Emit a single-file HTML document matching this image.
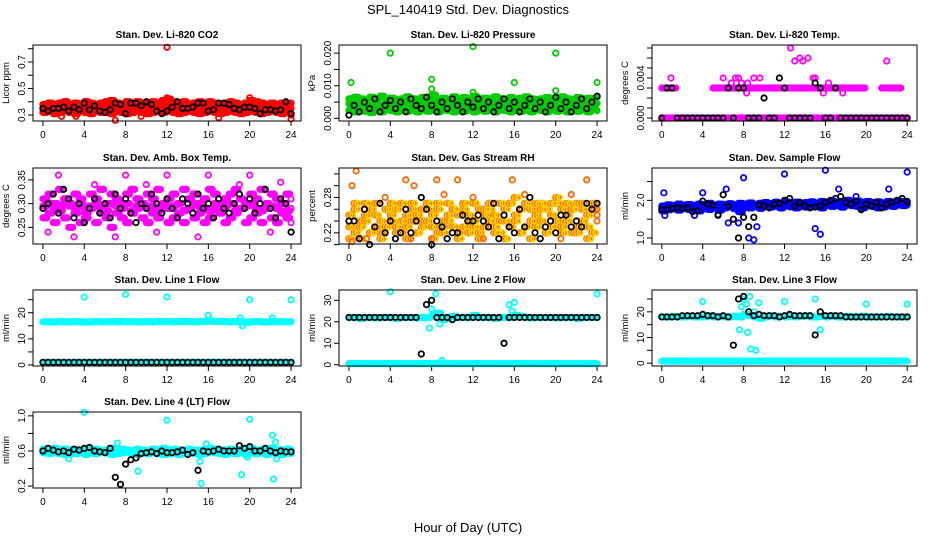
<!DOCTYPE html>
<html><head><meta charset="utf-8"><style>
body{margin:0;background:#fff;}
svg{display:block;font-family:"Liberation Sans",sans-serif;}
</style></head><body>
<svg id="c" width="936" height="540" viewBox="0 0 936 540">
<text x="468" y="14" font-size="13" text-anchor="middle">SPL_140419  Std. Dev. Diagnostics</text>
<text x="468" y="532" font-size="13" text-anchor="middle">Hour of Day (UTC)</text>
</svg>
<script>
// ---- data arrays (values at evenly spaced hours 0..24) ----
const xTicks=[0,4,8,12,16,20,24];
const titles=["Stan. Dev. Li-820 CO2","Stan. Dev. Li-820 Pressure","Stan. Dev. Li-820 Temp.","Stan. Dev. Amb. Box Temp.","Stan. Dev. Gas Stream RH","Stan. Dev. Sample Flow","Stan. Dev. Line 1 Flow","Stan. Dev. Line 2 Flow","Stan. Dev. Line 3 Flow","Stan. Dev. Line 4 (LT) Flow"];
const yTitles=["Licor ppm","kPa","degrees C","degrees C","percent","ml/min","ml/min","ml/min","ml/min","ml/min"];
const yLims=[[0.255,0.828],[-0.0008,0.0225],[-0.0003,0.0073],[0.215,0.375],[0.201,0.330],[0.84,2.86],[-0.4,28.7],[-0.6,34.8],[-1.1,28.5],[0.178,1.044]];
const yTicks=[[0.3,0.4,0.5,0.6,0.7,0.8],[0,0.005,0.01,0.015,0.02],[0,0.001,0.002,0.003,0.004,0.005,0.006,0.007],[0.25,0.30,0.35],[0.20,0.22,0.24,0.26,0.28,0.30,0.32],[1.0,1.5,2.0,2.5],[0,5,10,15,20,25],[0,10,20,30],[0,5,10,15,20,25],[0.2,0.4,0.6,0.8,1.0]];
const yLabels=[["0.3","","0.5","","0.7",""],["0.000","","0.010","","0.020"],["0.000","","","","0.004","","",""],["0.25","0.30","0.35"],["","0.22","","","0.28","",""],["1.0","","2.0",""],["0","","10","","20",""],["0","10","20","30"],["0","","10","","20",""],["0.2","","0.6","","1.0"]];
const colors=["#ff0000","#00cc00","#ff00ff","#ff00ff","#ff6600","#0000ff","#00ffff","#00ffff","#00ffff","#00ffff"];
const fills=["#ff0000","#00cc00","#ff00ff","#ff00ff","#ffdd00","#0000ff","#00ffff","#00ffff","#00ffff","#00ffff"];
const colA=[
[0.38,0.39,0.38,0.39,0.40,0.38,0.39,0.38,0.40,0.39,0.38,0.39,0.40,0.41,0.39,0.38,0.40,0.39,0.40,0.39,0.38,0.40,0.39,0.41,0.42,0.40,0.39,0.40,0.38,0.39,0.40,0.39,0.40,0.39,0.38,0.39,0.40,0.39,0.38,0.39,0.41,0.40,0.39,0.38,0.39,0.38,0.39,0.38,0.39],
[0.006,0.0065,0.006,0.0058,0.0065,0.006,0.0068,0.006,0.0062,0.0058,0.006,0.0066,0.006,0.0059,0.0064,0.006,0.0072,0.006,0.0062,0.0058,0.0066,0.006,0.0064,0.006,0.0068,0.006,0.0062,0.006,0.0066,0.006,0.0058,0.0064,0.006,0.0062,0.0066,0.006,0.0058,0.006,0.0064,0.006,0.0062,0.0066,0.006,0.0058,0.0064,0.006,0.0062,0.006,0.0065],
[0.003,0.003,0.003,null,null,null,null,null,null,null,0.003,0.003,0.003,0.003,0.003,0.003,0.003,0.003,0.003,0.003,0.003,0.003,0.003,0.003,0.003,0.003,0.003,0.003,0.003,0.003,0.003,0.003,0.003,0.003,0.003,0.003,0.003,0.003,0.003,0.003,null,null,null,0.003,0.003,0.003,0.003,null,null],
[0.31,0.32,0.30,0.33,0.31,0.30,0.32,0.31,0.29,0.32,0.31,0.33,0.30,0.32,0.31,0.30,0.32,0.33,0.31,0.30,0.32,0.31,0.33,0.30,0.31,0.32,0.30,0.33,0.31,0.32,0.30,0.31,0.33,0.32,0.30,0.31,0.32,0.33,0.31,0.30,0.32,0.31,0.33,0.30,0.32,0.31,0.30,0.32,0.31],
[0.25,0.26,0.24,0.25,0.26,0.25,0.24,0.26,0.25,0.26,0.24,0.25,0.26,0.25,0.24,0.26,0.25,0.26,0.24,0.25,0.26,0.25,0.26,0.25,0.24,0.26,0.25,0.26,0.25,0.24,0.26,0.27,0.25,0.26,0.27,0.26,0.25,0.27,0.26,0.25,0.27,0.26,0.25,0.26,0.27,0.26,0.25,0.26,0.25],
[1.85,1.88,1.86,1.90,1.87,1.89,1.86,1.90,1.88,1.92,1.87,1.90,1.89,1.91,1.88,1.92,1.90,1.93,1.89,1.92,1.94,1.91,1.95,1.92,1.96,1.93,1.95,1.92,1.94,1.96,1.93,1.97,1.95,1.98,1.94,1.97,2.00,1.96,1.98,1.95,1.97,1.94,1.96,1.93,1.97,1.95,1.98,1.96,1.97],
[16.5,16.5,16.4,16.6,16.5,16.5,16.6,16.5,16.4,16.5,16.6,16.5,16.5,16.6,16.5,16.7,16.5,16.6,16.5,16.5,16.6,16.5,16.7,16.6,16.6,16.5,16.6,16.7,16.6,16.5,16.6,16.7,16.8,16.6,16.7,16.6,16.5,16.6,16.5,16.4,16.5,16.6,16.5,16.4,16.6,16.5,16.6,16.5,16.6],
[22,22,21.5,22,22,21.8,22,22,22,21.5,22,22,22,21.8,22,22,23,24,21,22,22.5,22,22,22,23,22,22,22,21.5,22,22,22,23,22.5,22,21.8,22,22,22,22,21.8,22,22,22,21.5,22,22,22,22],
[18,18,18.2,18,18,18.3,18,18,18,18.5,18,18.2,18,18,18.3,18,19,18.5,18,17.5,18,18.5,18,18.2,18,18.5,18,18.2,18.5,18,18,18.3,18,18.5,18,18,18.2,18,18,18.3,18,18,18,18,18.2,18,18,18,18],
[0.62,0.61,0.63,0.60,0.62,0.61,0.62,0.60,0.63,0.61,0.62,0.60,0.61,0.63,0.60,0.62,0.61,0.60,0.62,0.61,0.60,0.62,0.61,0.63,0.60,0.62,0.61,0.60,0.62,0.61,0.60,0.61,0.63,0.62,0.60,0.61,0.62,0.60,0.62,0.61,0.63,0.61,0.60,0.62,0.63,0.61,0.60,0.62,0.61]];
const colB=[
[0.32,0.33,0.31,0.32,0.33,0.32,0.31,0.33,0.32,0.31,0.33,0.32,0.32,0.31,0.33,0.32,0.31,0.32,0.33,0.32,0.31,0.32,0.33,0.32,0.33,0.32,0.31,0.32,0.33,0.32,0.31,0.32,0.33,0.32,0.31,0.32,0.33,0.32,0.31,0.32,0.33,0.32,0.31,0.32,0.33,0.32,0.31,0.32,0.30],
[0.0025,0.002,0.003,0.0022,0.0018,0.0028,0.002,0.0032,0.0024,0.002,0.003,0.0022,0.0026,0.002,0.0034,0.0022,0.0028,0.002,0.003,0.0024,0.002,0.0028,0.0022,0.0032,0.002,0.0026,0.0022,0.003,0.002,0.0028,0.0024,0.002,0.003,0.0022,0.0026,0.002,0.003,0.0024,0.002,0.0028,0.0022,0.003,0.002,0.0026,0.0022,0.003,0.002,0.0028,0.0024],
[0,0,0,0,0,0,0,0,0,0,0,0,0,0,0,0,0,0,0,0,0,0,0,0,0,0,0,0,0,0,0,0,0,0,0,0,0,0,0,0,0,0,0,0,0,0,0,0,0],
[0.27,0.28,0.26,0.29,0.27,0.25,0.28,0.26,0.27,0.29,0.26,0.28,0.27,0.25,0.28,0.27,0.26,0.28,0.29,0.27,0.26,0.28,0.27,0.29,0.26,0.27,0.28,0.26,0.29,0.27,0.28,0.26,0.27,0.29,0.28,0.26,0.27,0.28,0.29,0.26,0.27,0.28,0.26,0.29,0.27,0.26,0.28,0.27,0.26],
[0.23,0.22,0.23,0.24,0.22,0.23,0.22,0.23,0.24,0.23,0.22,0.23,0.24,0.22,0.23,0.24,0.23,0.22,0.23,0.24,0.23,0.22,0.23,0.24,0.23,0.22,0.23,0.24,0.23,0.22,0.24,0.23,0.24,0.22,0.23,0.24,0.23,0.24,0.22,0.23,0.24,0.23,0.24,0.22,0.23,0.24,0.23,0.22,0.24],
[1.72,1.75,1.78,1.74,1.80,1.76,1.78,1.72,1.80,1.76,1.82,1.74,1.80,1.84,1.78,1.70,1.82,1.80,1.84,1.79,1.86,1.82,1.85,1.80,1.86,1.83,1.80,1.84,1.82,1.86,1.84,1.80,1.88,1.84,1.86,1.82,1.88,1.86,1.84,1.80,1.86,1.84,1.80,1.82,1.86,1.84,1.88,1.86,1.88],
[1,1,1,1,1,1,1,1,1,1,1,1,1,1,1,1,1,1,1,1,1,1,1,1,1,1,1,1,1,1,1,1,1,1,1,1,1,1,1,1,1,1,1,1,1,1,1,1,1],
[0.5,0.5,0.5,0.5,0.5,0.5,0.5,0.5,0.5,0.5,0.5,0.5,0.5,0.5,0.5,0.5,0.5,0.5,0.5,0.5,0.5,0.5,0.5,0.5,0.5,0.5,0.5,0.5,0.5,0.5,0.5,0.5,0.5,0.5,0.5,0.5,0.5,0.5,0.5,0.5,0.5,0.5,0.5,0.5,0.5,0.5,0.5,0.5,0.5],
[0.8,0.8,0.8,0.8,0.8,0.8,0.8,0.8,0.8,0.8,0.8,0.8,0.8,0.8,0.8,0.8,0.8,0.8,0.8,0.8,0.8,0.8,0.8,0.8,0.8,0.8,0.8,0.8,0.8,0.8,0.8,0.8,0.8,0.8,0.8,0.8,0.8,0.8,0.8,0.8,0.8,0.8,0.8,0.8,0.8,0.8,0.8,0.8,0.8],
[0.58,0.57,0.59,0.57,0.56,0.58,0.57,0.59,0.56,0.58,0.57,0.59,0.58,0.56,0.57,0.58,0.59,0.57,0.56,0.58,0.57,0.59,0.58,0.56,0.57,0.58,0.56,0.59,0.57,0.58,0.56,0.57,0.59,0.58,0.57,0.56,0.58,0.57,0.59,0.56,0.58,0.57,0.59,0.56,0.58,0.57,0.56,0.58,0.57]];
const colC=[
[0.35,0.36,0.34,0.35,0.36,0.35,0.34,0.36,0.35,0.37,0.34,0.35,0.36,0.35,0.34,0.36,0.35,0.37,0.34,0.35,0.36,0.35,0.34,0.36,0.37,0.35,0.34,0.36,0.35,0.36,0.34,0.35,0.36,0.35,0.37,0.34,0.35,0.36,0.35,0.34,0.37,0.36,0.35,0.34,0.36,0.35,0.34,0.36,0.35],
[0.0045,0.004,0.0048,0.0042,0.0038,0.0046,0.004,0.0044,0.0048,0.0042,0.004,0.0046,0.0044,0.004,0.0048,0.0042,0.0046,0.004,0.0044,0.0048,0.0042,0.004,0.0046,0.0044,0.0048,0.004,0.0042,0.0046,0.0044,0.004,0.0048,0.0042,0.0046,0.004,0.0044,0.0048,0.0042,0.004,0.0046,0.0044,0.004,0.0048,0.0042,0.0046,0.004,0.0044,0.0048,0.0042,0.0046],
[],
[0.295,0.30,0.29,0.285,0.30,0.295,0.29,0.30,0.28,0.295,0.30,0.29,0.285,0.30,0.295,0.29,0.30,0.285,0.295,0.30,0.29,0.295,0.285,0.30,0.29,0.295,0.30,0.285,0.29,0.30,0.295,0.29,0.285,0.30,0.29,0.295,0.30,0.285,0.29,0.295,0.30,0.29,0.285,0.30,0.295,0.29,0.30,0.285,0.29],
[0.21,0.27,0.21,0.27,0.22,0.27,0.21,0.26,0.27,0.22,0.27,0.21,0.27,0.22,0.26,0.27,0.21,0.27,0.22,0.27,0.26,0.21,0.27,0.22,0.27,0.21,0.26,0.27,0.22,0.27,0.21,0.27,0.28,0.22,0.27,0.21,0.27,0.26,0.22,0.27,0.28,0.22,0.27,0.26,0.22,0.27,0.21,0.27,0.26],
[1.80,1.82,1.80,1.83,1.82,1.84,1.80,1.83,1.82,1.85,1.80,1.83,1.84,1.86,1.83,1.82,1.86,1.85,1.87,1.85,1.88,1.86,1.90,1.86,1.90,1.88,1.86,1.88,1.87,1.90,1.88,1.86,1.92,1.90,1.90,1.88,1.92,1.90,1.90,1.87,1.90,1.88,1.86,1.88,1.90,1.88,1.92,1.90,1.92],
[],[],[],
[0.60,0.59,0.61,0.60,0.59,0.60,0.61,0.60,0.59,0.60,0.61,0.60,0.59,0.60,0.61,0.60,0.59,0.60,0.61,0.60,0.59,0.60,0.61,0.60,0.59,0.60,0.61,0.60,0.59,0.60,0.61,0.60,0.59,0.60,0.61,0.60,0.59,0.60,0.61,0.60,0.59,0.60,0.61,0.60,0.59,0.60,0.61,0.60,0.59]];
// outliers: [hour, value]
const outliers=[
[[12,0.81],[7,0.26],[24,0.27],[12,0.43],[20,0.43],[1.8,0.29],[3.2,0.29],[9.5,0.29],[17,0.28],[6.8,0.36],[13,0.36],[4,0.35],[16,0.35]],
[[0.2,0.011],[4,0.020],[8,0.012],[12,0.022],[16,0.011],[20,0.020],[24,0.011],[0.5,0.0045],[8,0.009],[12,0.008],[20,0.0085],[4,0.0045],[14,0.0045],[23,0.0045]],
[[0.9,0.004],[6,0.004],[7.2,0.004],[7.5,0.004],[6.8,0.0035],[7.8,0.0035],[8.4,0.0035],[8.3,0.0025],[9,0.004],[9.6,0.004],[12.6,0.007],[13,0.0057],[13.5,0.006],[13.8,0.0057],[14.3,0.006],[14.8,0.004],[15.8,0.0025],[16.3,0.0035],[17.7,0.0025],[22,0.0057],[15,0.004]],
[[1.5,0.36],[8,0.36],[12,0.36],[16,0.36],[20,0.36],[3,0.23],[7,0.23],[15,0.23],[22,0.24],[5,0.34],[10,0.34],[19,0.34],[23,0.345],[0.5,0.24],[11,0.24]],
[[0.7,0.325],[0.3,0.30],[5.5,0.31],[8.5,0.31],[10.5,0.31],[15.8,0.31],[23,0.31],[0.3,0.205],[1.7,0.21],[6,0.21],[8,0.21],[13,0.21],[20.5,0.21],[3.5,0.28],[12,0.28],[17,0.285],[21.5,0.285],[9.2,0.285],[6.3,0.30]],
[[0.2,2.2],[4,2.2],[6.3,2.3],[8,2.6],[12,2.7],[16,2.8],[24,2.75],[17.3,2.3],[22.2,2.3],[19,2.1],[6.5,1.4],[7.5,1.4],[8.5,1.0],[9,0.95],[9.3,1.3],[15,1.25],[15.5,1.1],[5.5,1.6],[0.3,1.6],[3.2,1.6]],
[[4,26],[8,27],[12,26],[16,19],[20,25],[24,25],[19.3,15],[19.1,18],[22.2,18]],
[[4,34],[8,26],[8.4,33],[9,2],[15.5,28],[16,29],[24,33],[7.8,17],[8.8,19],[15,10],[15.8,25]],
[[4,24],[7.8,22],[8,25],[8.3,23],[8.6,26],[9,20],[9.5,23.5],[7.6,13],[8.4,12],[8.7,5.5],[9.2,5],[12,24],[15,25],[15.5,13],[20,23],[24,23]],
[[4,1.04],[12,0.95],[20,0.96],[22.2,0.78],[22.5,0.7],[2.5,0.51],[9.2,0.37],[15.3,0.23],[19.2,0.33],[22.3,0.28],[15.2,0.48],[19.8,0.53],[22.6,0.51],[7.2,0.69],[15.8,0.68]]];
// black (current-day) points at evenly spaced hours
const black=[
[0.35,0.33,0.35,0.35,0.36,0.33,0.36,0.34,0.39,0.34,0.37,0.33,0.32,0.34,0.39,0.38,0.31,0.39,0.39,0.37,0.40,0.38,0.33,0.31,0.33,0.36,0.40,0.35,0.35,0.36,0.39,0.39,0.33,0.34,0.39,0.39,0.38,0.35,0.34,0.36,0.36,0.35,0.31,0.34,0.34,0.33,0.34,0.40,0.31],
[0.001,0.004,0.002,0.005,0.003,0.006,0.002,0.004,0.0055,0.003,0.005,0.002,0.006,0.004,0.003,0.0065,0.004,0.002,0.005,0.003,0.006,0.004,0.002,0.005,0.0035,0.006,0.003,0.005,0.002,0.004,0.006,0.003,0.005,0.002,0.004,0.006,0.003,0.005,0.002,0.004,0.0065,0.003,0.005,0.002,0.004,0.006,0.003,0.005,0.0068],
[0,0.003,0.003,0,0,0,0,0,0,0,0,0,0,0.003,0,0.003,0.003,0,0,0,0.002,0,0,0.004,0.003,0,0,0,0,0,0.0035,0.003,0,0,0.003,0,0,0,0,0,0,0,0,0,0,0,0,0,0],
[0.29,0.30,0.32,0.28,0.33,0.31,0.27,0.30,0.26,0.29,0.31,0.28,0.30,0.27,0.32,0.29,0.31,0.28,0.26,0.30,0.29,0.32,0.30,0.28,0.31,0.29,0.27,0.31,0.30,0.28,0.32,0.29,0.30,0.27,0.31,0.29,0.28,0.30,0.32,0.29,0.31,0.28,0.30,0.33,0.29,0.27,0.31,0.30,0.24],
[0.24,0.24,0.21,0.26,0.20,0.23,0.27,0.22,0.24,0.21,0.22,0.26,0.22,0.24,0.28,0.26,0.20,0.24,0.23,0.21,0.22,0.22,0.25,0.24,0.24,0.25,0.24,0.23,0.27,0.21,0.25,0.23,0.22,0.26,0.23,0.28,0.22,0.21,0.23,0.24,0.22,0.25,0.25,0.23,0.24,0.23,0.27,0.26,0.27],
[1.75,1.75,1.78,1.80,1.78,1.80,1.70,1.72,1.98,1.90,1.87,1.62,2.15,1.85,1.50,1.00,1.55,1.30,1.55,1.88,1.85,1.80,1.90,1.92,2.00,2.05,1.85,1.95,1.85,1.80,1.82,1.85,1.95,2.00,2.05,2.10,1.95,1.90,1.98,1.75,1.90,1.85,1.95,1.80,1.90,1.95,2.00,2.05,1.97],
[1,1,1,1,1,1,1,1,1,1,1,1,1,1,1,1,1,1,1,1,1,1,1,1,1,1,1,1,1,1,1,1,1,1,1,1,1,1,1,1,1,1,1,1,1,1,1,1,1],
[22,22,22,22,22,22,22,22,22,22,22,22,22,22,5,28,30,22,22,22,21,22,22,22,22,22,22,22,22,22,10,22,22,22,22,22,22,22,22,22,22,22,22,22,22,22,22,22,22],
[18,18,18,18,18.5,18.5,18.5,18.5,19,18.5,18.5,18,18.5,18,7,25,26,20,18.5,19,18.5,18.5,18.5,18,18.5,19,18.5,18.5,18.5,18.5,11,20,18.5,18.5,18.5,18.5,18,18,18,18,18,18,18,18,18,18,18,18,18],
[0.60,0.63,0.61,0.59,0.60,0.58,0.62,0.61,0.63,0.64,0.60,0.59,0.58,0.63,0.30,0.22,0.45,0.50,0.52,0.57,0.58,0.59,0.57,0.60,0.58,0.58,0.59,0.61,0.56,0.58,0.38,0.60,0.59,0.60,0.62,0.60,0.60,0.60,0.66,0.63,0.65,0.60,0.60,0.63,0.60,0.58,0.60,0.59,0.59]];

const NS="http://www.w3.org/2000/svg";
const svg=document.getElementById('c');
const colLeft=[33,339,652], colW=[268,268,265], rowTop=[45,168,290,412], boxH=76;
function mk(tag,attrs,parent){const e=document.createElementNS(NS,tag);for(const k in attrs)e.setAttribute(k,attrs[k]);(parent||svg).appendChild(e);return e;}
for(let p=0;p<titles.length;p++){
  const L=colLeft[p%3], W=colW[p%3], T=rowTop[Math.floor(p/3)];
  const g=mk('g',{});
  
  
  const xs=h=>L+(h+0.96)/25.92*W;
  const [y0,y1]=yLims[p];
  const ys=v=>T+boxH-(v-y0)/(y1-y0)*boxH;
  const t=mk('text',{x:L+W/2,y:T-7,'font-size':10,'font-weight':'bold','text-anchor':'middle'},g);t.textContent=titles[p];
  
  
  const yt=mk('text',{x:0,y:0,'font-size':9.5,'text-anchor':'middle',transform:`translate(${L-24},${T+boxH/2}) rotate(-90)`},g);yt.textContent=yTitles[p];
  
  
  xTicks.forEach(h=>{const x=xs(h);mk('line',{x1:x,x2:x,y1:T+boxH,y2:T+boxH+5,stroke:'#000'},g);
    const tl=mk('text',{x:x,y:T+boxH+17,'font-size':10,'text-anchor':'middle'},g);tl.textContent=h;
    
    });
  yTicks[p].forEach((v,i)=>{const y=ys(v);mk('line',{x1:L-5,x2:L,y1:y,y2:y,stroke:'#000'},g);
    if(yLabels[p][i]){const tl=mk('text',{x:0,y:0,'font-size':10,'text-anchor':'middle',transform:`translate(${L-8},${y}) rotate(-90)`},g);tl.textContent=yLabels[p][i];
    
    }});
  const cg=mk('g',{},g);
  const dot=(h,v,col,name)=>{if(v===null||v===undefined)return;const c=mk('circle',{cx:xs(h),cy:ys(v),r:2.7,fill:'none',stroke:col,'stroke-width':1.8},cg);
    
    };
  const bands=[colA[p],colB[p],colC[p]];
  bands.forEach(a=>{const n=a.length;a.forEach((v,i)=>{
    const h=i*24/(n-1);
    [0,0.125,0.25,0.375].forEach((o,k)=>{if(h+o<=24)dot(h+o,v,k%2?fills[p]:colors[p],'band-point');});
  });});
  outliers[p].forEach(o=>dot(o[0],o[1],colors[p],'outlier-point'));
  black[p].forEach((v,i)=>dot(i*24/(black[p].length-1),v,'#000','current-point'));
  const box=mk('rect',{x:L,y:T,width:W,height:boxH,fill:'none',stroke:'#000'},g);
  
  
}
</script>
</body></html>
